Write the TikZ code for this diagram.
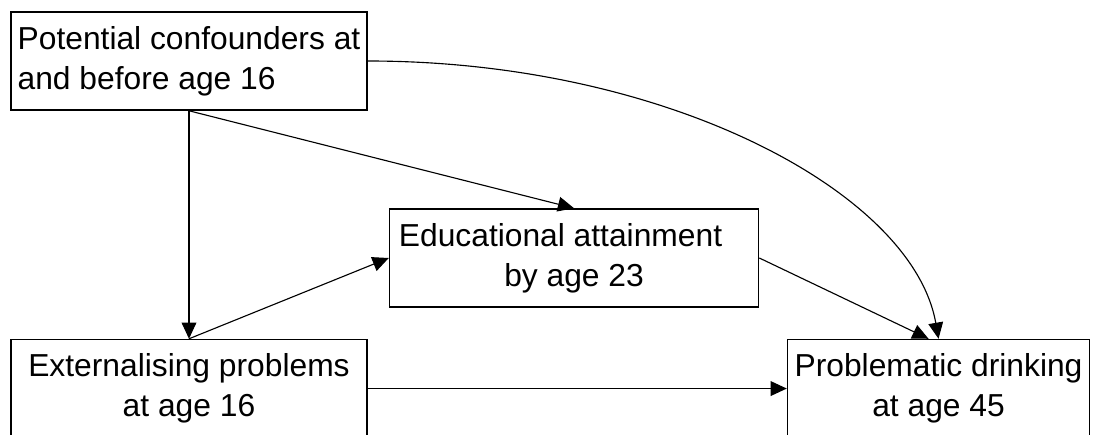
\documentclass[tikz,border=0pt]{standalone}
\usepackage{fontspec}
\setmainfont{Liberation Sans}
\usetikzlibrary{arrows.meta, positioning}
\tikzset{
  box/.style={rectangle, draw=black, line width=1.1pt, minimum height=2.45cm, inner sep=2pt, font=\fontsize{22.6}{28.45}\selectfont},
  arrow/.style={-{Triangle[length=11.5pt, width=10.5pt]}, line width=0.8pt},
}

\begin{document}
\begin{tikzpicture}
  % picture frame
  \useasboundingbox (-4.725,1.525) rectangle (22.7,-9.325);
  \clip (-4.725,1.525) rectangle (22.7,-9.325);
  % Confounders
  \node[box, minimum width=8.9cm, align=left] (conf) at (0,0) {Potential confounders at\\and before age 16};
  % Exposure
  \node[box, minimum width=8.9cm, align=center, below=5.7cm of conf] (ext) {Externalising problems\\at age 16};
  % Outcome
  \node[box, minimum width=7.55cm, align=center, right=10.475cm of ext] (drink) {Problematic drinking\\at age 45};
  % Mediator
  \node[box, minimum width=9.225cm, align=center, above right=0.775cm and 0.525cm of ext] (edu) {Educational attainment\hspace*{0.85em}\\by age 23};

  % Arrows
  \draw[arrow] (conf) -- (ext);
  \draw[arrow] (conf.south) -- (edu.north);
  \draw[arrow] (ext.north) -- (edu.west);
  \draw[arrow] (ext) -- (drink);
  \draw[arrow] (edu.east) -- ([xshift=-2.5mm]drink.north);
  \draw[arrow] (conf.east) .. controls +(0:7.5) and +(100:3.7) .. (drink.north);
\end{tikzpicture}
\end{document}
